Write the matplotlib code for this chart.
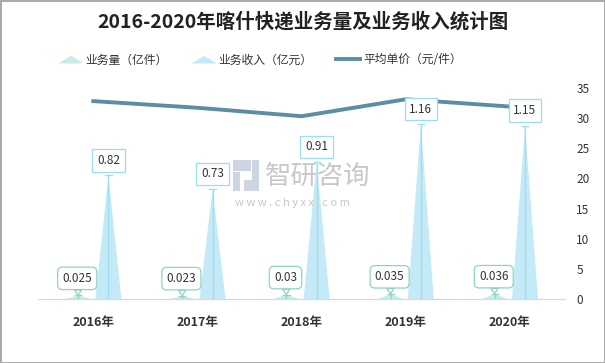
import matplotlib.pyplot as plt
from matplotlib.lines import Line2D
from matplotlib.patches import Rectangle
import numpy as np

plt.rcParams['font.family'] = ['Noto Sans CJK SC', 'DejaVu Sans']

# data
years = ['2016年', '2017年', '2018年', '2019年', '2020年']
volume = [0.025, 0.023, 0.03, 0.035, 0.036]      # 业务量（亿件）
revenue = [0.82, 0.73, 0.91, 1.16, 1.15]         # 业务收入（亿元）
price = [32.8, 31.7, 30.3, 33.1, 31.9]           # 平均单价（元/件）

c_vol = '#c9ece6'
c_vol_edge = '#8fd3c4'
c_rev = '#c4eaf8'
c_rev_edge = '#9edcf1'
c_line = '#5b8ea6'

fig = plt.figure(figsize=(6.05, 3.63), dpi=100)
fig.patch.set_edgecolor('#aaaaaa')
fig.patch.set_linewidth(2)
ax = fig.add_axes([0.063, 0.176, 0.871, 0.582])
ax2 = ax.twinx()

x = np.arange(len(years))
half = 0.125

def spike(xc, h, fc, ec):
    ax.fill([xc - half, xc + half, xc], [0, 0, h], color=fc, lw=0, zorder=2)
    ax.plot([xc, xc], [0, h], color=ec, lw=0.9, zorder=3)
    ax.plot([xc - 0.03, xc + 0.03], [h, h], color=ec, lw=0.9, zorder=3)

for i in range(len(years)):
    spike(x[i] - 0.145, volume[i], c_vol, c_vol_edge)
    spike(x[i] + 0.145, revenue[i], c_rev, c_rev_edge)
    ax.annotate(f'{revenue[i]:g}', (x[i] + 0.145, revenue[i]),
                xytext=(0, 15), textcoords='offset pixels',
                ha='center', va='center', fontsize=8.5, color='#333333',
                bbox=dict(boxstyle='square,pad=0.4', fc='white', ec=c_rev_edge, lw=0.9),
                zorder=5)
    ax.annotate(f'{volume[i]:g}', (x[i] - 0.145, volume[i]),
                xytext=(-1, 17), textcoords='offset pixels',
                ha='center', va='center', fontsize=8.5, color='#333333',
                bbox=dict(boxstyle='round,pad=0.4,rounding_size=0.4', fc='white', ec=c_vol_edge, lw=0.9),
                arrowprops=dict(arrowstyle='wedge,tail_width=0.6,shrink_factor=0.5',
                                fc='white', ec=c_vol_edge, lw=0.9, shrinkA=0, shrinkB=0),
                zorder=5)

ax2.plot(x, price, color=c_line, lw=2.8, zorder=4)

ax.set_xlim(-0.53, 4.53)
ax.set_ylim(0, 1.4)
ax2.set_ylim(0, 35)
ax2.set_yticks(np.arange(0, 36, 5))
ax2.tick_params(axis='y', length=0, labelsize=8.5, labelcolor='#333333', pad=8)
ax.set_yticks([])
ax.set_xticks(x)
ax.set_xticklabels(years, fontsize=9, fontweight='bold', color='#333333')
ax.tick_params(axis='x', length=0, pad=12)
for a in (ax, ax2):
    for s in ['top', 'left', 'right']:
        a.spines[s].set_visible(False)
    a.spines['bottom'].set_color('#d9d9d9')
ax.set_zorder(ax2.get_zorder() + 1)
ax.patch.set_visible(False)

# watermark
fig.text(0.438, 0.515, '智研咨询', fontsize=19, color='#c8c8c8', ha='left', va='center')
fig.text(0.388, 0.44, 'w w w . c h y x x . c o m', fontsize=8, color='#c8c8c8', ha='left', va='center')
for rx, ry, rw, rh in [(0.385, 0.53, 0.03, 0.03), (0.385, 0.475, 0.012, 0.05),
                       (0.403, 0.475, 0.025, 0.03), (0.417, 0.505, 0.011, 0.055)]:
    fig.patches.append(Rectangle((rx, ry), rw, rh, transform=fig.transFigure,
                                 color='#cdd4e2', lw=0))

fig.text(0.5, 0.94, '2016-2020年喀什快递业务量及业务收入统计图', ha='center', va='center',
         fontsize=14, fontweight='bold', color='#222222')

tri = [(-1, -0.3), (1, -0.3), (0, 0.3)]
handles = [
    Line2D([], [], marker=tri, markersize=16, color=c_vol, lw=0),
    Line2D([], [], marker=tri, markersize=16, color=c_rev, lw=0),
    Line2D([], [], color=c_line, lw=2.8),
]
fig.legend(handles, ['业务量（亿件）', '业务收入（亿元）', '平均单价（元/件）'],
           loc='center', bbox_to_anchor=(0.43, 0.835), ncol=3, frameon=False,
           fontsize=8.5, handlelength=2.0, columnspacing=2.0, handletextpad=0.3,
           labelcolor='#333333')

fig.savefig('out.png', dpi=100, edgecolor=fig.get_edgecolor(), facecolor='white')
